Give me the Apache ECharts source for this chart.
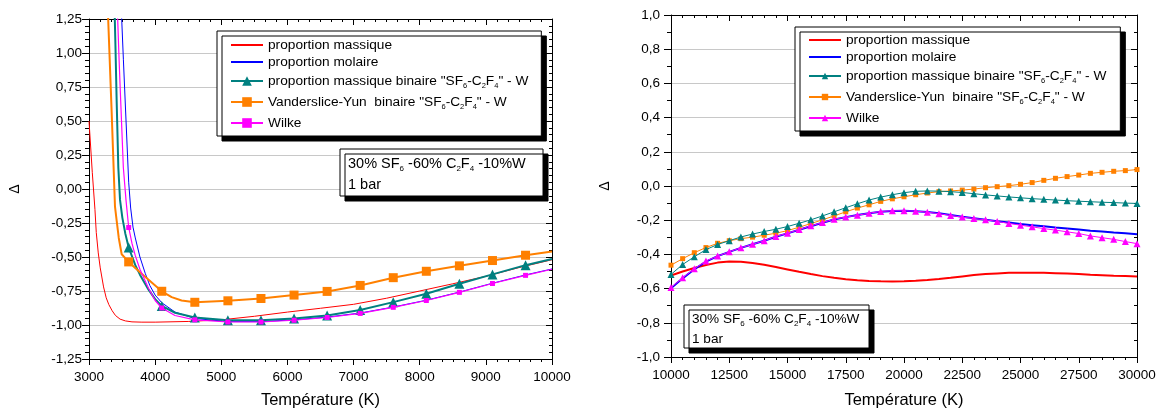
<!DOCTYPE html>
<html>
<head>
<meta charset="utf-8">
<script src="https://cdn.jsdelivr.net/npm/echarts@6/dist/echarts.min.js"></script>
<style>
html,body{margin:0;padding:0;background:#fff;}
#c1{position:absolute;left:0;top:0;width:580px;height:414px;}
#c2{position:absolute;left:580px;top:0;width:580px;height:414px;}
</style>
</head>
<body>
<div id="c1"></div>
<div id="c2"></div>
<script>
// ---------- names ----------
const seriesNames = [
  'proportion massique',
  'proportion molaire',
  'proportion massique binaire "SF6-C2F4" - W',
  'Vanderslice-Yun  binaire "SF6-C2F4" - W',
  'Wilke'
];

// ---------- LEFT chart data (T [K], Delta) ----------
const leftMarkerTemps = [3600, 4100, 4600, 5100, 5600, 6100, 6600, 7100, 7600, 8100, 8600, 9100, 9600];
const leftMassique = [[3000,0.50],[3050,0.12],[3090,-0.15],[3110,-0.32],[3140,-0.47],[3170,-0.58],[3220,-0.72],[3260,-0.80],[3300,-0.85],[3350,-0.895],[3400,-0.93],[3470,-0.957],[3550,-0.97],[3650,-0.977],[3800,-0.979],[4000,-0.979],[4500,-0.974],[5000,-0.962],[5500,-0.936],[6000,-0.905],[6500,-0.877],[7000,-0.848],[7500,-0.803],[8000,-0.75],[8500,-0.697],[9000,-0.642],[9500,-0.578],[10000,-0.52]];
const leftMolaire = [[3490,1.30],[3520,0.95],[3560,0.50],[3600,0.05],[3630,-0.14],[3665,-0.28],[3700,-0.36],[3770,-0.50],[3850,-0.62],[3920,-0.71],[4000,-0.78],[4100,-0.836],[4300,-0.905],[4600,-0.952],[5100,-0.975],[5600,-0.975],[6100,-0.962],[6600,-0.942],[7100,-0.912],[7600,-0.868],[8100,-0.818],[8600,-0.758],[9100,-0.693],[9600,-0.632],[10000,-0.588]];
const leftBinaireW = [[3385,1.35],[3400,1.05],[3418,0.65],[3443,0.16],[3469,-0.08],[3504,-0.21],[3550,-0.33],[3600,-0.43],[3700,-0.56],[3770,-0.63],[3900,-0.74],[4000,-0.81],[4100,-0.86],[4300,-0.91],[4600,-0.945],[5100,-0.965],[5600,-0.965],[6100,-0.952],[6600,-0.93],[7100,-0.89],[7600,-0.832],[8100,-0.77],[8600,-0.697],[9100,-0.628],[9600,-0.56],[10000,-0.515]];
const leftVanderslice = [[3275,1.45],[3290,1.25],[3340,0.60],[3393,-0.13],[3420,-0.24],[3450,-0.36],[3494,-0.48],[3600,-0.536],[3771,-0.612],[4100,-0.752],[4250,-0.795],[4400,-0.82],[4600,-0.833],[5100,-0.822],[5600,-0.805],[6100,-0.78],[6600,-0.753],[7100,-0.709],[7600,-0.652],[8100,-0.605],[8600,-0.565],[9100,-0.526],[9600,-0.487],[10000,-0.46]];
const leftWilke = [[3430,1.30],[3455,0.95],[3479,0.65],[3519,0.16],[3559,-0.08],[3600,-0.283],[3650,-0.40],[3700,-0.49],[3770,-0.59],[3900,-0.73],[4000,-0.82],[4100,-0.875],[4300,-0.93],[4600,-0.962],[5100,-0.978],[5600,-0.978],[6100,-0.965],[6600,-0.945],[7100,-0.915],[7600,-0.87],[8100,-0.82],[8600,-0.76],[9100,-0.695],[9600,-0.635],[10000,-0.59]];

// ---------- RIGHT chart data ----------
const rightTemps = [10000,10500,11000,11500,12000,12500,13000,13500,14000,14500,15000,15500,16000,16500,17000,17500,18000,18500,19000,19500,20000,20500,21000,21500,22000,22500,23000,23500,24000,24500,25000,25500,26000,26500,27000,27500,28000,28500,29000,29500,30000];
const rightMassique = [-0.523,-0.500,-0.480,-0.462,-0.448,-0.441,-0.443,-0.450,-0.460,-0.474,-0.488,-0.502,-0.515,-0.527,-0.537,-0.545,-0.551,-0.555,-0.557,-0.558,-0.557,-0.554,-0.550,-0.544,-0.537,-0.529,-0.521,-0.515,-0.511,-0.508,-0.507,-0.507,-0.508,-0.510,-0.512,-0.515,-0.519,-0.522,-0.525,-0.527,-0.529];
const rightMolaire = [-0.598,-0.540,-0.487,-0.442,-0.410,-0.385,-0.362,-0.341,-0.320,-0.297,-0.277,-0.256,-0.235,-0.215,-0.196,-0.182,-0.170,-0.159,-0.150,-0.146,-0.145,-0.147,-0.152,-0.160,-0.169,-0.180,-0.189,-0.197,-0.206,-0.214,-0.222,-0.229,-0.236,-0.243,-0.249,-0.255,-0.261,-0.266,-0.272,-0.277,-0.282];
const rightBinaireW = [-0.517,-0.459,-0.414,-0.372,-0.342,-0.320,-0.298,-0.281,-0.266,-0.253,-0.237,-0.218,-0.198,-0.175,-0.151,-0.127,-0.104,-0.082,-0.065,-0.051,-0.039,-0.031,-0.029,-0.030,-0.033,-0.038,-0.045,-0.052,-0.058,-0.064,-0.069,-0.074,-0.078,-0.082,-0.086,-0.089,-0.092,-0.095,-0.097,-0.100,-0.102];
const rightVanderslice = [-0.463,-0.425,-0.390,-0.360,-0.335,-0.320,-0.308,-0.299,-0.288,-0.276,-0.261,-0.241,-0.220,-0.198,-0.175,-0.151,-0.129,-0.110,-0.090,-0.075,-0.063,-0.051,-0.041,-0.033,-0.029,-0.024,-0.018,-0.010,-0.004,0.002,0.010,0.020,0.033,0.045,0.055,0.064,0.074,0.080,0.086,0.090,0.096];
const rightWilke = [-0.594,-0.537,-0.484,-0.439,-0.410,-0.385,-0.361,-0.341,-0.320,-0.295,-0.276,-0.255,-0.233,-0.214,-0.194,-0.182,-0.171,-0.159,-0.149,-0.145,-0.145,-0.147,-0.153,-0.162,-0.172,-0.182,-0.190,-0.198,-0.207,-0.219,-0.229,-0.239,-0.249,-0.258,-0.268,-0.278,-0.292,-0.302,-0.312,-0.325,-0.337];

// ---------- styling helpers ----------
const FONT = '"Liberation Sans", Arial, sans-serif';
const C = {red:'#ff0000', blue:'#0000ff', teal:'#008080', orange:'#ff8000', magenta:'#ff00ff'};

const richStyles = {
  n: {fontSize: 13.7, fontFamily: FONT, color: '#000', lineHeight: 17},
  s: {fontSize: 7.5, fontFamily: FONT, color: '#000', lineHeight: 17, padding: [10, 0, 0, 0]}
};
const legendRich = {};
legendRich[seriesNames[0]] = '{n|proportion massique}';
legendRich[seriesNames[1]] = '{n|proportion molaire}';
legendRich[seriesNames[2]] = '{n|proportion massique binaire "SF}{s|6}{n|-C}{s|2}{n|F}{s|4}{n|" - W}';
legendRich[seriesNames[3]] = '{n|Vanderslice-Yun  binaire "SF}{s|6}{n|-C}{s|2}{n|F}{s|4}{n|" - W}';
legendRich[seriesNames[4]] = '{n|Wilke}{s| }';
const annotText = '{n|30% SF}{s|6}{n| -60% C}{s|2}{n|F}{s|4}{n| -10%W}\n{n|1 bar}';

function axes(xmin, xmax, xint, xminor, ymin, ymax, yint, yminor, ydec, xNameGap, yNameGap, yLabMargin) {
  const line = {show: true, onZero: false, lineStyle: {color: '#000', width: 1}};
  const xa = {
    type: 'value', min: xmin, max: xmax, interval: xint, position: 'bottom',
    axisLine: line,
    axisTick: {show: true, inside: false, length: 6, lineStyle: {color: '#000'}},
    minorTick: {show: true, splitNumber: xminor, length: 3, lineStyle: {color: '#000'}},
    axisLabel: {color: '#000', fontSize: 13.5, fontFamily: FONT, margin: 11, formatter: v => String(v)},
    splitLine: {show: false},
    name: 'Température (K)', nameLocation: 'middle', nameGap: xNameGap,
    nameTextStyle: {color: '#000', fontSize: 16.5, fontFamily: FONT}
  };
  const xb = {
    type: 'value', min: xmin, max: xmax, interval: xint, position: 'top',
    axisLine: line,
    axisTick: {show: true, inside: true, length: 6, lineStyle: {color: '#000'}},
    minorTick: {show: true, splitNumber: xminor, length: 3, lineStyle: {color: '#000'}},
    axisLabel: {show: false}, splitLine: {show: false}
  };
  const ya = {
    type: 'value', min: ymin, max: ymax, interval: yint, position: 'left',
    axisLine: line,
    axisTick: {show: true, inside: false, length: 7, lineStyle: {color: '#000'}},
    minorTick: {show: true, splitNumber: yminor, length: 4, lineStyle: {color: '#000'}},
    axisLabel: {color: '#000', fontSize: 13.5, fontFamily: FONT, margin: yLabMargin,
      formatter: v => v.toFixed(ydec).replace('.', ',')},
    splitLine: {show: true, lineStyle: {color: '#c8c8c8', width: 1}},
    name: 'Δ', nameLocation: 'middle', nameGap: yNameGap,
    nameTextStyle: {color: '#000', fontSize: 14, fontFamily: FONT}
  };
  const yb = {
    type: 'value', min: ymin, max: ymax, interval: yint, position: 'right',
    axisLine: line,
    axisTick: {show: true, inside: true, length: 6, lineStyle: {color: '#000'}},
    minorTick: {show: true, splitNumber: yminor, length: 3, lineStyle: {color: '#000'}},
    axisLabel: {show: false}, splitLine: {show: false}
  };
  return {xAxis: [xa, xb], yAxis: [ya, yb]};
}

function lineSeries(name, points, color, width, symbol, size, markerTemps, z) {
  return {
    type: 'line', name: name,
    data: points.map(p => (symbol && (!markerTemps || markerTemps.indexOf(p[0]) >= 0)) ? {value: p} : {value: p, symbol: 'none'}),
    symbol: symbol || 'none', symbolSize: size || 0, showSymbol: !!symbol,
    lineStyle: {color: color, width: width},
    itemStyle: {color: color},
    emphasis: {disabled: true}, silent: true, clip: true, z: z || 2,
    xAxisIndex: 0, yAxisIndex: 0
  };
}

function legend(left, top, itemH, pad) {
  return {
    orient: 'vertical', left: left, top: top,
    padding: pad, itemGap: 3, itemWidth: 32, itemHeight: itemH,
    backgroundColor: '#fff', borderColor: '#000', borderWidth: 1, borderRadius: 0,
    shadowColor: '#000', shadowBlur: 0, shadowOffsetX: 5, shadowOffsetY: 5,
    selectedMode: false,
    textStyle: {fontSize: 13.7, fontFamily: FONT, color: '#000', rich: richStyles},
    formatter: name => legendRich[name],
    data: seriesNames.map((n, i) => i < 2 ? {name: n, itemStyle: {opacity: 0}} : {name: n})
  };
}

function annotation(x, y, w, h, fs, lh) {
  return [
    {type: 'rect', shape: {x: x, y: y, width: w, height: h}, z: 100,
     style: {fill: '#fff', stroke: '#000', lineWidth: 1, shadowColor: '#000', shadowBlur: 0, shadowOffsetX: 5, shadowOffsetY: 5}},
    {type: 'text', x: x + 8, y: y + 4, z: 101,
     style: {text: annotText, rich: {n: {fontSize: fs, fontFamily: FONT, fill: '#000', lineHeight: lh}, s: {fontSize: 8, fontFamily: FONT, fill: '#000', lineHeight: lh, padding: [10, 0, 0, 0]}}, fill: '#000'}}
  ];
}

// ---------- LEFT chart ----------
const chart1 = echarts.init(document.getElementById('c1'), null, {renderer: 'canvas'});
const ax1 = axes(3000, 10000, 1000, 6, -1.25, 1.25, 0.25, 5, 2, 33, 67, 7);
chart1.setOption({
  animation: false,
  grid: {left: 89, top: 19, width: 463, height: 341, containLabel: false},
  xAxis: ax1.xAxis, yAxis: ax1.yAxis,
  legend: legend(217, 31, 12, [7, 13, 4, 13]),
  graphic: annotation(340, 149, 203, 47, 14.5, 21),
  series: [
    lineSeries(seriesNames[0], leftMassique, C.red, 1, null, 0, null, 2),
    lineSeries(seriesNames[1], leftMolaire, C.blue, 1, null, 0, null, 3),
    lineSeries(seriesNames[2], leftBinaireW, C.teal, 2, 'triangle', 10, leftMarkerTemps, 4),
    lineSeries(seriesNames[3], leftVanderslice, C.orange, 2, 'rect', 9, leftMarkerTemps, 5),
    lineSeries(seriesNames[4], leftWilke, C.magenta, 1.2, 'rect', 5, leftMarkerTemps, 6)
  ]
});

// ---------- RIGHT chart ----------
const chart2 = echarts.init(document.getElementById('c2'), null, {renderer: 'canvas'});
const ax2 = axes(10000, 30000, 2500, 5, -1.0, 1.0, 0.2, 2, 1, 35, 59, 11);
const zipT = vals => rightTemps.map((t, i) => [t, vals[i]]);
chart2.setOption({
  animation: false,
  grid: {left: 91, top: 15, width: 466, height: 343, containLabel: false},
  xAxis: ax2.xAxis, yAxis: ax2.yAxis,
  legend: legend(215, 27, 8, [6, 14, 4, 13]),
  graphic: annotation(104, 305, 185, 43, 13.6, 20),
  series: [
    lineSeries(seriesNames[0], zipT(rightMassique), C.red, 2, null, 0, null, 2),
    lineSeries(seriesNames[1], zipT(rightMolaire), C.blue, 2, null, 0, null, 3),
    lineSeries(seriesNames[2], zipT(rightBinaireW), C.teal, 1, 'triangle', 7, null, 5),
    lineSeries(seriesNames[3], zipT(rightVanderslice), C.orange, 1, 'rect', 5, null, 4),
    lineSeries(seriesNames[4], zipT(rightWilke), C.magenta, 1, 'triangle', 7, null, 6)
  ]
});
</script>
</body>
</html>
